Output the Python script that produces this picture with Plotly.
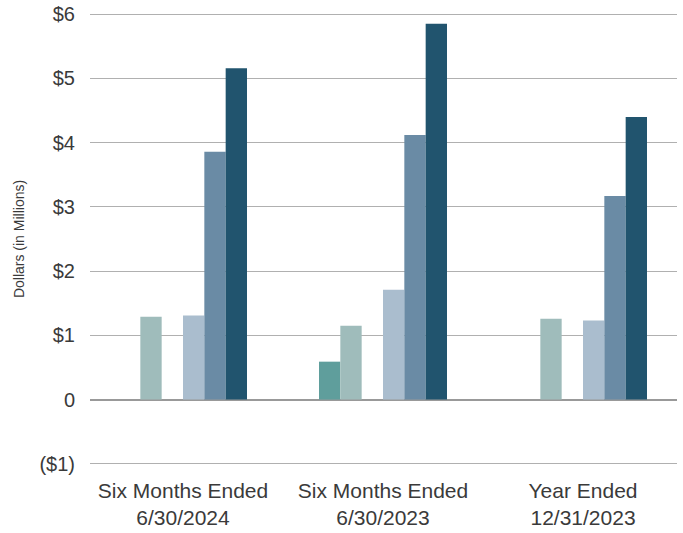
import plotly.graph_objects as go

categories = ["Six Months Ended<br>6/30/2024", "Six Months Ended<br>6/30/2023", "Year Ended<br>12/31/2023"]
x_pos = [0, 1, 2]

series_names = ["Series 1", "Series 2", "Series 3", "Series 4", "Series 5", "Series 6"]
series_values = [
    [None, 0.59, None],
    [1.29, 1.15, 1.26],
    [None, None, None],
    [1.31, 1.71, 1.23],
    [3.86, 4.12, 3.17],
    [5.16, 5.85, 4.40],
]
series_colors = ["#5f9e9c", "#9fbcbb", "#c8d6d4", "#aabdce", "#6a8ba5", "#21546e"]

y_tickvals = [-1, 0, 1, 2, 3, 4, 5, 6]
y_ticktext = ["($1)", "0", "$1", "$2", "$3", "$4", "$5", "$6"]

fig = go.Figure()
for name, vals, col in zip(series_names, series_values, series_colors):
    fig.add_trace(go.Bar(x=x_pos, y=vals, name=name, marker=dict(color=col, line=dict(width=0))))

fig.update_layout(
    width=683, height=533,
    margin=dict(l=90, r=6, t=11, b=66),
    barmode="group", bargap=0.36, bargroupgap=0,
    plot_bgcolor="white", paper_bgcolor="white",
    showlegend=False,
    font=dict(family="Liberation Sans, Arial, sans-serif", size=20, color="#3a3a3a"),
)
fig.update_xaxes(
    tickmode="array", tickvals=x_pos, ticktext=categories,
    range=[-0.465, 2.47], showgrid=False, zeroline=False, showline=False,
    ticks="", ticklabelstandoff=9, tickfont=dict(size=21), automargin=False,
)
fig.update_yaxes(
    tickmode="array", tickvals=y_tickvals, ticktext=y_ticktext,
    range=[-1.05, 6.05], showgrid=True, gridcolor="#b0b0b0", gridwidth=1.3,
    zeroline=True, zerolinecolor="#999999", zerolinewidth=1.6,
    showline=False, ticks="", ticklabelstandoff=14, tickfont=dict(size=20), automargin=False,
    title=dict(text="Dollars (in Millions)", font=dict(size=14, color="#3a3a3a"), standoff=11),
)
fig.write_html("out.html")
